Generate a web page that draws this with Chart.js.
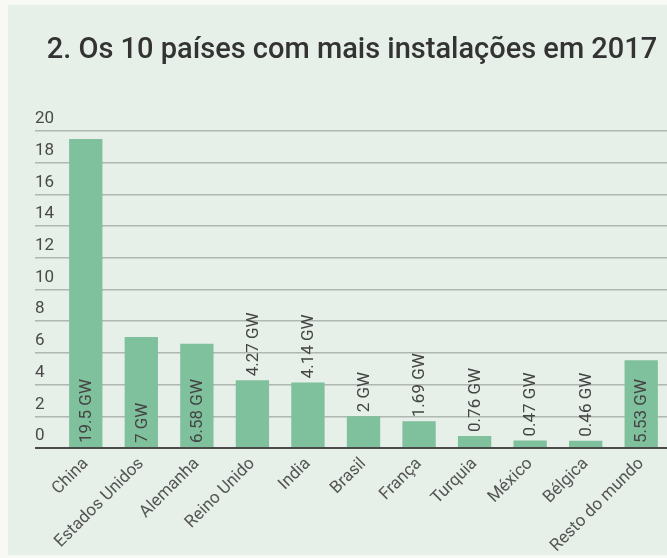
<!DOCTYPE html>
<html>
<head>
<meta charset="utf-8">
<script src="https://cdn.jsdelivr.net/npm/chart.js@4/dist/chart.umd.min.js"></script>
<style>
  html, body { margin: 0; padding: 0; background: #f8f8f4; overflow: hidden; width: 667px; height: 558px; }
  #panel { position: absolute; left: 8px; top: 5px; width: 680px; height: 550px; background: #e6efe8; }
  #wrap { position: absolute; left: 0; top: 0; width: 669px; height: 558px; }
</style>
</head>
<body>
<div id="panel"></div>
<div id="wrap"><canvas id="c" width="669" height="558"></canvas></div>
<script>
// Installed photovoltaic capacity in 2017, by country (GW)
const countries = ['China', 'Estados Unidos', 'Alemanha', 'Reino Unido', 'India', 'Brasil',
                   'França', 'Turquia', 'México', 'Bélgica', 'Resto do mundo'];
const capacityGW = [19.5, 7, 6.58, 4.27, 4.14, 2, 1.69, 0.76, 0.47, 0.46, 5.53];
const valueLabels = ['19.5 GW', '7 GW', '6.58 GW', '4.27 GW', '4.14 GW', '2 GW',
                     '1.69 GW', '0.76 GW', '0.47 GW', '0.46 GW', '5.53 GW'];
const yTickValues = [0, 2, 4, 6, 8, 10, 12, 14, 16, 18, 20];

const FONT = 'Roboto, "Noto Sans", sans-serif';

// Vertical value labels: inside the bar for tall bars, above it for short ones
const barValueLabels = {
  id: 'barValueLabels',
  afterDatasetsDraw(chart) {
    const ctx = chart.ctx;
    const meta = chart.getDatasetMeta(0);
    ctx.save();
    ctx.font = '17px ' + FONT;
    ctx.fillStyle = '#444';
    ctx.textAlign = 'left';
    ctx.textBaseline = 'middle';
    meta.data.forEach((bar, i) => {
      const v = capacityGW[i];
      const startY = v >= 5 ? bar.base - 4 : bar.y - 4;
      ctx.save();
      ctx.translate(bar.x, startY);
      ctx.rotate(-Math.PI / 2);
      ctx.fillText(valueLabels[i], 0, 1);
      ctx.restore();
    });
    ctx.restore();
  }
};

new Chart(document.getElementById('c'), {
  type: 'bar',
  data: {
    labels: countries,
    datasets: [{
      data: capacityGW,
      backgroundColor: '#7fc09d',
      borderWidth: 0,
      categoryPercentage: 1,
      barPercentage: 0.6
    }]
  },
  options: {
    responsive: false,
    animation: false,
    layout: { padding: { left: 35, right: 0, top: 0, bottom: 0 } },
    plugins: {
      legend: { display: false },
      tooltip: { enabled: false },
      title: {
        display: true,
        text: '2. Os 10 países com mais instalações em 2017',
        color: '#333',
        font: { family: FONT, size: 29, weight: '500' },
        padding: { top: 33, bottom: 63.2 }
      }
    },
    scales: {
      x: {
        grid: { display: false, drawTicks: false },
        border: { display: false },
        ticks: {
          color: '#555',
          font: { family: FONT, size: 17 },
          minRotation: 45,
          maxRotation: 45,
          padding: 6,
          autoSkip: false
        },
        afterFit(scale) {
          scale.height = 110;
          scale.paddingLeft = 0;
          scale.paddingRight = 0;
        }
      },
      y: {
        min: 0,
        max: 20,
        afterBuildTicks(scale) {
          scale.ticks = yTickValues.map(v => ({ value: v }));
        },
        border: { display: false },
        grid: {
          drawTicks: true,
          tickLength: 23,
          color: ctx => ctx.tick && ctx.tick.value === 0 ? '#4a4a4a' : '#b0b7b1',
          lineWidth: ctx => ctx.tick && ctx.tick.value === 0 ? 2 : 1.5
        },
        ticks: {
          mirror: true,
          padding: -23,
          labelOffset: -12,
          color: '#4a4a4a',
          font: { family: FONT, size: 17 },
          callback: v => String(v)
        },
        afterFit(scale) {
          scale.width = 23;
        }
      }
    }
  },
  plugins: [barValueLabels]
});
</script>
</body>
</html>
